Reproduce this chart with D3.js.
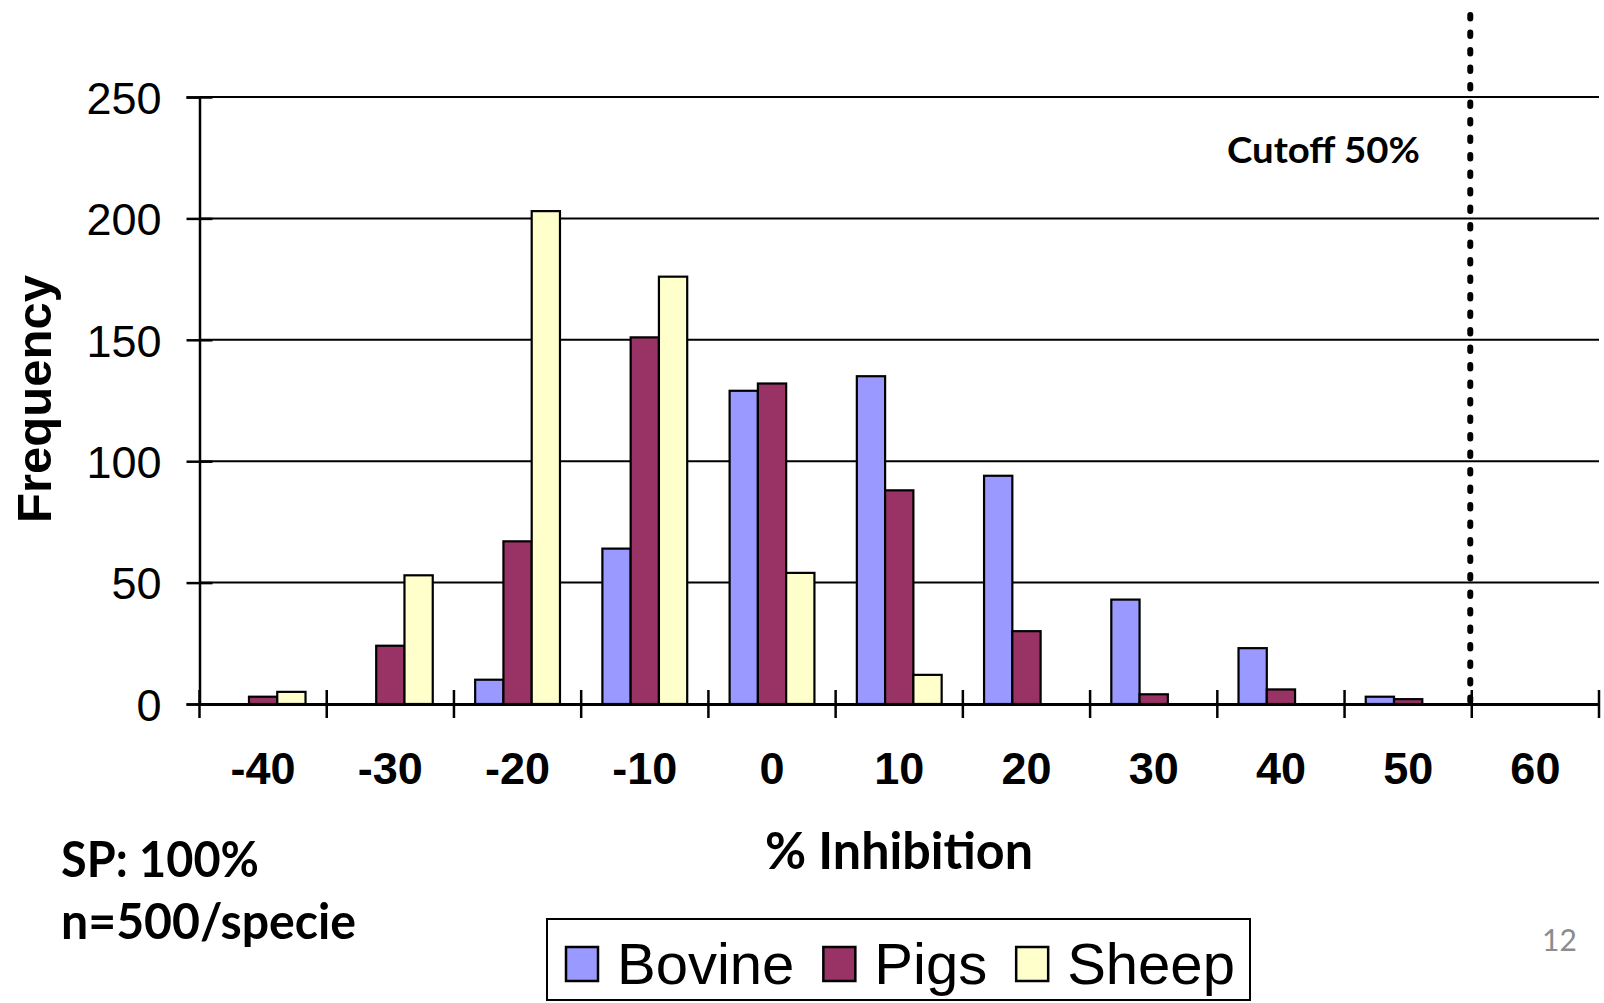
<!DOCTYPE html>
<html><head><meta charset="utf-8">
<script src="https://cdn.jsdelivr.net/npm/d3@7"></script>
<style>body{margin:0;background:#fff}svg{display:block}</style>
</head><body>
<svg id="chart" width="1604" height="1003"></svg>
<script>
// Frequency of % inhibition classes per species
const categories = ["-40","-30","-20","-10","0","10","20","30","40","50","60"];
const bovine = [0, 0, 10, 64, 129, 135, 94, 43, 23, 3, 0];
const pigs   = [3, 24, 67, 151, 132, 88, 30, 4, 6, 2, 0];
const sheep  = [5, 53, 203, 176, 54, 12, 0, 0, 0, 0, 0];
const yTicks = [0, 50, 100, 150, 200, 250];
const seriesNames = ["Bovine", "Pigs", "Sheep"];
const seriesColors = ["#9999FF", "#993366", "#FFFFCC"];
const cutoffClass = "50";

const series = [bovine, pigs, sheep];
const svg = d3.select("#chart");
const plotLeft = 199.5, plotRight = 1599, plotTop = 97, plotBottom = 704;

const x = d3.scaleBand().domain(categories).range([plotLeft, plotRight]).padding(0);
const xs = d3.scaleBand().domain(seriesNames).range([0, x.bandwidth()])
  .paddingInner(0).paddingOuter(0.75);
const y = d3.scaleLinear().domain([0, 250]).range([plotBottom, plotTop]);

const sansB = "'Liberation Sans', Arial, sans-serif";
const human = "Lato, 'Open Sans', sans-serif";

// horizontal gridlines
svg.append("g").selectAll("line").data(yTicks.filter(d => d > 0)).join("line")
  .attr("x1", plotLeft).attr("x2", plotRight)
  .attr("y1", d => y(d)).attr("y2", d => y(d))
  .attr("stroke", "#000").attr("stroke-width", 2);

// bars
const rows = categories.map((c, i) => ({ c, vals: series.map(s => s[i]) }));
svg.append("g").selectAll("g").data(rows).join("g")
  .attr("transform", d => `translate(${x(d.c)},0)`)
  .selectAll("rect")
  .data(d => d.vals.map((v, k) => ({ v, k })).filter(e => e.v > 0))
  .join("rect")
  .attr("x", e => xs(seriesNames[e.k]))
  .attr("width", xs.bandwidth())
  .attr("y", e => y(e.v))
  .attr("height", e => y(0) - y(e.v))
  .attr("fill", e => seriesColors[e.k])
  .attr("stroke", "#000").attr("stroke-width", 2.2);

// y axis
const yAxis = svg.append("g").attr("transform", `translate(${plotLeft},0)`)
  .call(d3.axisLeft(y).tickValues(yTicks).tickSizeOuter(0).tickSize(13));
yAxis.select(".domain").attr("stroke-width", 2.5);
yAxis.selectAll(".tick line").attr("x1", 13).attr("stroke-width", 2.5);
yAxis.selectAll(".tick text").attr("font-family", sansB).attr("font-size", 45)
  .attr("fill", "#000").attr("dy", "0.36em").attr("x", -38);

// x axis
const xAxis = svg.append("g").attr("transform", `translate(0,${plotBottom})`)
  .call(d3.axisBottom(x).tickSize(0).tickSizeOuter(0).tickPadding(0));
xAxis.select(".domain").attr("stroke-width", 3);
xAxis.selectAll(".tick line").remove();
xAxis.selectAll(".tick text").attr("font-family", sansB).attr("font-size", 45)
  .attr("font-weight", "bold").attr("fill", "#000").attr("y", 80).attr("dy", 0);
const bounds = categories.map(c => x(c)).concat([plotRight]);
svg.append("g").selectAll("line").data(bounds).join("line")
  .attr("x1", d => d).attr("x2", d => d)
  .attr("y1", plotBottom - 14).attr("y2", plotBottom + 14)
  .attr("stroke", "#000").attr("stroke-width", 2.5);

// cutoff line
const cx = x(cutoffClass) + x.bandwidth() - 1.5;
svg.append("line").attr("x1", cx).attr("x2", cx).attr("y1", 15).attr("y2", 712)
  .attr("stroke", "#000").attr("stroke-width", 6)
  .attr("stroke-linecap", "round").attr("stroke-dasharray", "3.5,14");
svg.append("text").attr("x", 1227).attr("y", 163)
  .attr("font-family", human).attr("font-weight", "bold").attr("font-size", 37)
  .attr("textLength", 193).attr("lengthAdjust", "spacingAndGlyphs")
  .text("Cutoff 50%");

// axis titles
svg.append("text").attr("transform", "translate(51,399) rotate(-90)")
  .attr("text-anchor", "middle").attr("font-family", sansB)
  .attr("font-weight", "bold").attr("font-size", 49).text("Frequency");
svg.append("text").attr("x", 765).attr("y", 869)
  .attr("font-family", human).attr("font-weight", "bold").attr("font-size", 52)
  .attr("textLength", 268).attr("lengthAdjust", "spacingAndGlyphs")
  .text("% Inhibition");

// notes
svg.append("text").attr("x", 61).attr("y", 877)
  .attr("font-family", human).attr("font-weight", "bold").attr("font-size", 50)
  .attr("textLength", 198).attr("lengthAdjust", "spacingAndGlyphs").text("SP: 100%");
svg.append("text").attr("x", 61).attr("y", 939)
  .attr("font-family", human).attr("font-weight", "bold").attr("font-size", 50)
  .attr("textLength", 295).attr("lengthAdjust", "spacingAndGlyphs").text("n=500/specie");
svg.append("text").attr("x", 1542).attr("y", 951)
  .attr("font-family", human).attr("font-size", 30).attr("fill", "#8c8c8c").text("12");

// legend
const lg = svg.append("g");
lg.append("rect").attr("x", 547).attr("y", 919).attr("width", 703).attr("height", 81)
  .attr("fill", "#fff").attr("stroke", "#000").attr("stroke-width", 2);
let lx = 566;
seriesNames.forEach((name, k) => {
  lg.append("rect").attr("x", lx).attr("y", 947).attr("width", 32).attr("height", 34)
    .attr("fill", seriesColors[k]).attr("stroke", "#000").attr("stroke-width", 2.5);
  const t = lg.append("text").attr("x", lx + 51).attr("y", 984)
    .attr("font-family", sansB).attr("font-size", 58).text(name);
  lx += 51 + t.node().getComputedTextLength() + 29;
});
</script>
</body></html>
